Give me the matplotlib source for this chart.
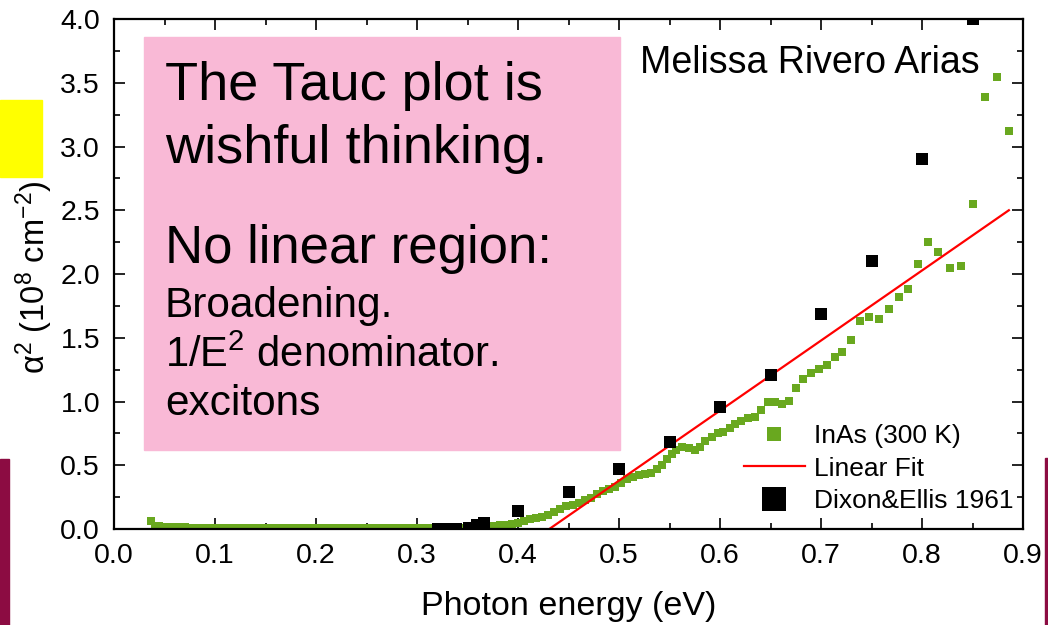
import matplotlib
matplotlib.use('Agg')
import matplotlib.pyplot as plt
from matplotlib.patches import Rectangle
from matplotlib.ticker import MultipleLocator, FormatStrFormatter

plt.rcParams['font.family'] = ['Liberation Sans', 'DejaVu Sans']
plt.rcParams['mathtext.fontset'] = 'custom'
plt.rcParams['mathtext.rm'] = 'Liberation Sans'
plt.rcParams['mathtext.it'] = 'Liberation Sans:italic'
plt.rcParams['mathtext.default'] = 'regular'

# InAs (300 K) absorption squared, flat part below the gap
inas_low_x = [0.037, 0.041, 0.045, 0.050, 0.055, 0.060, 0.065, 0.070,
              0.075, 0.080, 0.085, 0.090, 0.095, 0.100, 0.105, 0.110, 0.115, 0.120,
              0.125, 0.130, 0.135, 0.140, 0.145, 0.150, 0.155, 0.160, 0.165, 0.170,
              0.175, 0.180, 0.185, 0.190, 0.195, 0.200, 0.205, 0.210, 0.215, 0.220,
              0.225, 0.230, 0.235, 0.240, 0.245, 0.250, 0.255, 0.260, 0.265, 0.270,
              0.275, 0.280, 0.285, 0.290, 0.295, 0.300, 0.305, 0.310, 0.315, 0.320,
              0.325, 0.330, 0.335, 0.340, 0.345, 0.350, 0.355, 0.360, 0.365]
inas_low_y = [0.060, 0.022, 0.020, 0.018, 0.016, 0.015, 0.013, 0.012,
              0.011, 0.011, 0.010, 0.010, 0.010, 0.010, 0.010, 0.010, 0.010, 0.010,
              0.010, 0.010, 0.010, 0.010, 0.010, 0.010, 0.010, 0.010, 0.010, 0.010,
              0.010, 0.010, 0.010, 0.010, 0.010, 0.010, 0.010, 0.010, 0.010, 0.010,
              0.010, 0.010, 0.010, 0.010, 0.010, 0.010, 0.010, 0.010, 0.010, 0.010,
              0.010, 0.010, 0.010, 0.010, 0.010, 0.010, 0.010, 0.010, 0.010, 0.010,
              0.010, 0.010, 0.010, 0.010, 0.010, 0.010, 0.010, 0.011, 0.011]

# InAs above the gap
inas_edge_x = [0.370, 0.376, 0.382, 0.388, 0.394, 0.400, 0.406, 0.412, 0.418, 0.424,
               0.430, 0.436, 0.442, 0.448, 0.454, 0.460, 0.466, 0.472, 0.478, 0.484,
               0.490, 0.496, 0.502, 0.508, 0.514, 0.520, 0.526, 0.532, 0.538, 0.543,
               0.548, 0.552, 0.556, 0.562, 0.569, 0.575, 0.580, 0.585, 0.592, 0.598,
               0.603, 0.610, 0.615, 0.621, 0.628, 0.635, 0.641, 0.648, 0.654, 0.661,
               0.668, 0.675, 0.682, 0.690, 0.698, 0.706, 0.714, 0.721, 0.730, 0.739,
               0.748, 0.757, 0.767, 0.777, 0.786, 0.796, 0.806, 0.816, 0.828, 0.839,
               0.850, 0.862, 0.874, 0.886]
inas_edge_y = [0.012, 0.020, 0.028, 0.035, 0.042, 0.050, 0.062, 0.078, 0.088, 0.098,
               0.106, 0.135, 0.158, 0.180, 0.192, 0.205, 0.225, 0.245, 0.272, 0.298,
               0.315, 0.330, 0.360, 0.392, 0.410, 0.422, 0.433, 0.443, 0.468, 0.505,
               0.548, 0.590, 0.622, 0.641, 0.633, 0.620, 0.646, 0.693, 0.724, 0.750,
               0.763, 0.790, 0.824, 0.850, 0.868, 0.881, 0.933, 0.999, 0.999, 0.978,
               1.004, 1.103, 1.180, 1.226, 1.255, 1.290, 1.346, 1.385, 1.482, 1.634,
               1.660, 1.647, 1.728, 1.817, 1.885, 2.076, 2.254, 2.175, 2.047, 2.063,
               2.549, 3.390, 3.545, 3.124]

# linear fit end points
fit_x = [0.431, 0.886]
fit_y = [0.0, 2.50]

# Dixon & Ellis 1961
dixon_x = [0.321, 0.330, 0.339, 0.351, 0.359, 0.366, 0.40, 0.45, 0.50, 0.55,
           0.60, 0.65, 0.70, 0.75, 0.80, 0.85]
dixon_y = [0.0, 0.0, 0.0, 0.01, 0.03, 0.05, 0.14, 0.29, 0.47, 0.68,
           0.96, 1.21, 1.69, 2.10, 2.90, 4.00]

GREEN = '#69A81F'
PINK = '#F9B9D6'
W, H = 1048, 625

fig = plt.figure(figsize=(W / 100, H / 100), dpi=100)
ax = fig.add_axes([114 / W, 1 - 529 / H, 909 / W, 510 / H])

ax.plot(inas_low_x + inas_edge_x, inas_low_y + inas_edge_y, ls='none', marker='s',
        ms=5.2, mew=0, color=GREEN, label='InAs (300 K)')
ax.plot(fit_x, fit_y, color='red', lw=1.6, label='Linear Fit')
ax.plot(dixon_x, dixon_y, ls='none', marker='s', ms=8.8, mew=0, color='black',
        label='Dixon&Ellis 1961')

ax.set_xlim(0, 0.9)
ax.set_ylim(0, 4.0)
ax.xaxis.set_major_locator(MultipleLocator(0.1))
ax.xaxis.set_minor_locator(MultipleLocator(0.05))
ax.yaxis.set_major_locator(MultipleLocator(0.5))
ax.yaxis.set_minor_locator(MultipleLocator(0.25))
ax.xaxis.set_major_formatter(FormatStrFormatter('%.1f'))
ax.yaxis.set_major_formatter(FormatStrFormatter('%.1f'))
ax.tick_params(which='both', direction='in', top=True, right=True, width=1.2,
               labelsize=20.5, pad=10)
ax.tick_params(which='major', length=8)
ax.tick_params(which='minor', length=4)
for sp in ax.spines.values():
    sp.set_linewidth(1.6)

ax.set_xlabel('Photon energy (eV)', fontsize=24.5)
ax.xaxis.set_label_coords(0.5, -0.122)
ax.set_ylabel('α$^2$ (10$^8$ cm$^{-2}$)', fontsize=23.5)
ax.yaxis.set_label_coords(-0.065, 0.494)

ax.legend(loc='upper left', bbox_to_anchor=((744 - 114) / 909, (529 - 424) / 510),
          frameon=False, fontsize=19, markerscale=2, handlelength=2.3,
          handletextpad=0.35, labelspacing=0.33, borderpad=0, borderaxespad=0)

# slide overlays
fig.add_artist(Rectangle((144 / W, 1 - 450 / H), 476 / W, 413 / H,
                         transform=fig.transFigure, color=PINK, zorder=5))
fig.add_artist(Rectangle((0, 1 - 177 / H), 42 / W, 77 / H,
                         transform=fig.transFigure, color='#FFFF00', zorder=5))
fig.add_artist(Rectangle((0, 0), 9 / W, 166 / H,
                         transform=fig.transFigure, color='#8C0C42', zorder=5))
fig.add_artist(Rectangle((1045 / W, 0), 3 / W, 167 / H,
                         transform=fig.transFigure, color='#8C0C42', zorder=5))

def slide_text(x, base, s, size):
    fig.text(x / W, 1 - base / H, s, fontsize=size, va='baseline', ha='left', zorder=6)

slide_text(165, 100, 'The Tauc plot is', 39)
slide_text(165, 163, 'wishful thinking.', 39)
slide_text(165, 263, 'No linear region:', 38)
slide_text(165, 317, 'Broadening.', 30.5)
slide_text(165, 367, '1/E$^2$ denominator.', 30)
slide_text(165, 415, 'excitons', 30.5)
slide_text(640, 73, 'Melissa Rivero Arias', 27)

fig.savefig('out.png', dpi=100)
